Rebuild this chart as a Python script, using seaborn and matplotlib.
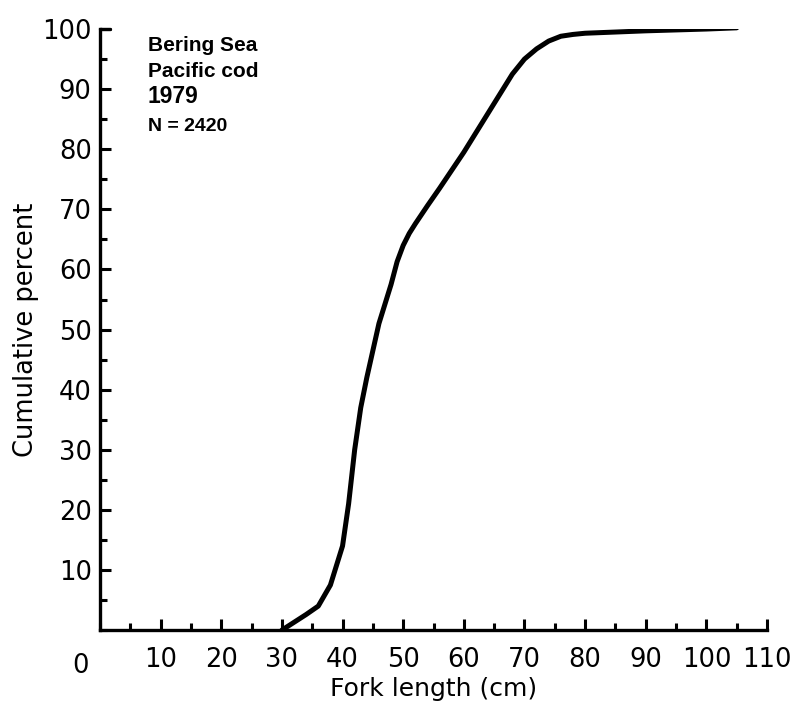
import numpy as np
import pandas as pd
import matplotlib.pyplot as plt
from matplotlib.ticker import MultipleLocator
import seaborn as sns

# ── Data ─────────────────────────────────────────────────────
fork_length = [30, 34, 36, 38, 40, 41, 42, 43, 44, 46, 48, 49, 50, 51, 52, 54, 56, 60, 64, 68, 70, 72, 74, 76, 78, 80, 90, 100, 105]
cum_percent = [0, 2.6, 4, 7.5, 14, 21, 30, 37, 42, 51, 57.5, 61.3, 64, 66, 67.6, 70.6, 73.5, 79.5, 86, 92.5, 95, 96.7, 98, 98.8, 99.1, 99.3, 99.7, 100, 100.2]

x_ticks = [10, 20, 30, 40, 50, 60, 70, 80, 90, 100, 110]
y_ticks = [10, 20, 30, 40, 50, 60, 70, 80, 90, 100]
annot_lines = ['Bering Sea', 'Pacific cod', '1979']
annot_n = 'N = 2420'

df = pd.DataFrame({'length': fork_length, 'cum': cum_percent})

sns.set_style('ticks')
plt.rcParams['font.family'] = ['DejaVu Sans']
for k in ['text.color', 'axes.labelcolor', 'xtick.color', 'ytick.color', 'axes.edgecolor']:
    plt.rcParams[k] = 'black'

fig = plt.figure(figsize=(7.96, 7.08), dpi=100)
ax = fig.add_axes([0.1256, 0.110, 0.838, 0.849])

sns.lineplot(data=df, x='length', y='cum', ax=ax, color='black',
             linewidth=3.6, solid_capstyle='round', solid_joinstyle='round')

ax.set_xlim(0, 110)
ax.set_ylim(0, 100)
ax.set_xticks(x_ticks)
ax.set_yticks(y_ticks)
ax.xaxis.set_minor_locator(MultipleLocator(5))
ax.yaxis.set_minor_locator(MultipleLocator(5))

sns.despine(ax=ax)
for s in ['left', 'bottom']:
    ax.spines[s].set_linewidth(2.4)
ax.spines['left'].set_bounds(0, 100)
ax.spines['bottom'].set_bounds(0, 110)

ax.tick_params(which='major', direction='in', length=8, width=2.2,
               labelsize=18.5)
ax.tick_params(which='minor', direction='in', length=5, width=2.2)
ax.tick_params(axis='x', which='major', pad=12)
ax.tick_params(axis='y', which='major', pad=6)
# short stroke at the top of the y axis, like the original frame corner
ax.plot([0, 1.6], [100, 100], color='black', lw=2.4, clip_on=False)

# the "0" of the x axis sits left of the corner
ax.text(-3.2, -0.038, '0', transform=ax.get_xaxis_transform(),
        ha='center', va='top', fontsize=18.5)

ax.set_xlabel('Fork length (cm)', fontsize=18, labelpad=3)
ax.set_ylabel('Cumulative percent', fontsize=18.5, labelpad=2)

# annotation block
y0 = 97.3
for i, line in enumerate(annot_lines):
    ax.text(7.9, y0 - i * 4.3, line, fontsize=15 if i < 2 else 16.5,
            fontweight='bold', family='Liberation Sans', ha='left', va='center')
ax.text(7.9, y0 - 3 * 4.3 - 0.6, annot_n, fontsize=14, fontweight='bold',
        family='Liberation Sans', ha='left', va='center')

plt.savefig('out.png', dpi=100)
plt.close()
